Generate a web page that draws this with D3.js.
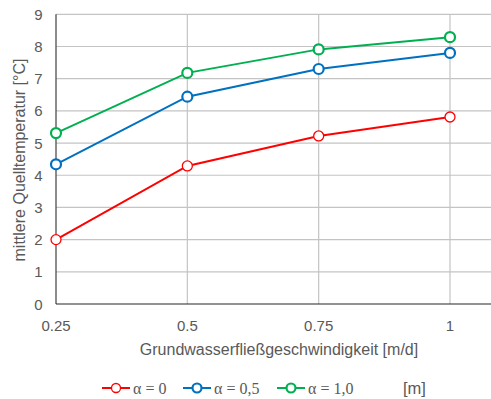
<!DOCTYPE html>
<html>
<head>
<meta charset="utf-8"/>
<script src="https://d3js.org/d3.v7.min.js"></script>
<style>
  body { margin:0; background:#fff; }
  svg text { font-family: "Liberation Sans", Arial, sans-serif; fill:#595959; }
</style>
</head>
<body>
<div id="chart"></div>
<script>
// data
var speeds = [0.25, 0.5, 0.75, 1];
var alpha0  = [2.0, 4.29, 5.22, 5.81];
var alpha05 = [4.34, 6.44, 7.30, 7.80];
var alpha10 = [5.31, 7.18, 7.91, 8.29];
var yTicks = [0,1,2,3,4,5,6,7,8,9];
var seriesNames = ["\u03b1 = 0", "\u03b1 = 0,5", "\u03b1 = 1,0"];
var seriesColors = ["#ff0000", "#0070c0", "#00b050"];

var width = 491, height = 399;
var pLeft = 56, pRight = 491, pTop = 14.3, pBottom = 304;

var svg = d3.select("#chart").append("svg")
  .attr("width", width).attr("height", height);

var x = d3.scaleLinear().domain([0.25, 1]).range([pLeft, 450]);
var y = d3.scaleLinear().domain([0, 9]).range([pBottom, pTop]);

// grid
svg.append("g").selectAll("line").data(yTicks.slice(1)).enter()
  .append("line")
  .attr("x1", pLeft).attr("x2", pRight)
  .attr("y1", function(d){ return y(d); }).attr("y2", function(d){ return y(d); })
  .attr("stroke", "#c4c4c4").attr("stroke-width", 1.2);
svg.append("g").selectAll("line").data(speeds.slice(1)).enter()
  .append("line")
  .attr("x1", function(d){ return x(d); }).attr("x2", function(d){ return x(d); })
  .attr("y1", pTop).attr("y2", pBottom)
  .attr("stroke", "#c4c4c4").attr("stroke-width", 1.2);

// axes lines
svg.append("line").attr("x1", pLeft).attr("x2", pLeft).attr("y1", pTop).attr("y2", pBottom)
  .attr("stroke", "#404040").attr("stroke-width", 1.2);
svg.append("line").attr("x1", pLeft).attr("x2", pRight).attr("y1", pBottom).attr("y2", pBottom)
  .attr("stroke", "#262626").attr("stroke-width", 1.2);

// tick labels
svg.append("g").selectAll("text").data(yTicks).enter().append("text")
  .attr("x", 42.5).attr("y", function(d){ return y(d) + 5.5; })
  .attr("text-anchor", "end").attr("font-size", 15)
  .text(function(d){ return d; });
svg.append("g").selectAll("text").data(speeds).enter().append("text")
  .attr("x", function(d){ return x(d); }).attr("y", 331)
  .attr("text-anchor", "middle").attr("font-size", 15)
  .text(function(d){ return d; });

// axis titles
svg.append("text").attr("x", 279).attr("y", 355).attr("text-anchor", "middle")
  .attr("font-size", 16).text("Grundwasserflie\u00dfgeschwindigkeit [m/d]");
svg.append("text").attr("transform", "translate(25,160) rotate(-90)")
  .attr("text-anchor", "middle").attr("font-size", 16)
  .text("mittlere Quelltemperatur [\u00b0C]");

// series
var all = [alpha0, alpha05, alpha10];
var line = d3.line().x(function(d, i){ return x(speeds[i]); }).y(function(d){ return y(d); });
all.forEach(function(vals, k){
  var g = svg.append("g");
  g.append("path").datum(vals).attr("d", line)
    .attr("fill", "none").attr("stroke", seriesColors[k]).attr("stroke-width", 2);
  g.selectAll("circle").data(vals).enter().append("circle")
    .attr("cx", function(d, i){ return x(speeds[i]); })
    .attr("cy", function(d){ return y(d); })
    .attr("r", 5).attr("fill", "#fff")
    .attr("stroke", seriesColors[k]).attr("stroke-width", k == 0 ? 1.3 : 2.2);
});

// legend
var legX = [102, 183, 277];
var legY = 388;
var leg = svg.append("g");
seriesNames.forEach(function(n, k){
  var lx = legX[k];
  leg.append("line").attr("x1", lx).attr("x2", lx + 28).attr("y1", legY).attr("y2", legY)
    .attr("stroke", seriesColors[k]).attr("stroke-width", 2);
  leg.append("circle").attr("cx", lx + 14).attr("cy", legY).attr("r", 4.5)
    .attr("fill", "#fff").attr("stroke", seriesColors[k]).attr("stroke-width", k == 0 ? 1.3 : 2.2);
  leg.append("text").attr("x", lx + 31).attr("y", legY + 6)
    .style("font-family", "'Liberation Serif', 'Times New Roman', serif")
    .attr("font-size", 16).text(n);
});
leg.append("text").attr("x", 403).attr("y", legY + 6).attr("font-size", 16.5).text("[m]");
</script>
</body>
</html>
